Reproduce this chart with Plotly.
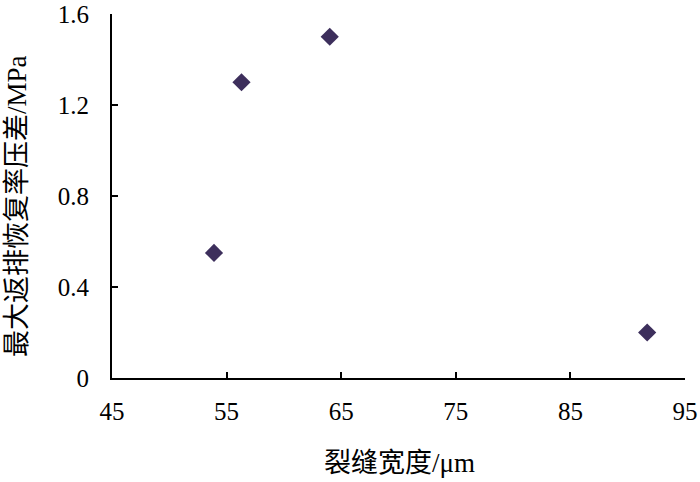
import plotly.graph_objects as go

# crack width (um) vs max flowback recovery pressure difference (MPa)
crack_width = [53.9, 56.3, 64.0, 91.7]
pressure_diff = [0.55, 1.30, 1.50, 0.20]

x_ticks = [45, 55, 65, 75, 85, 95]
y_ticks = [0, 0.4, 0.8, 1.2, 1.6]
y_tick_text = ["0", "0.4", "0.8", "1.2", "1.6"]

x_title = "裂缝宽度/μm"
y_title = "最大返排恢复率压差/MPa"

font_family = "Liberation Serif"
cjk_family = "Liberation Serif, Noto Sans CJK SC"

fig = go.Figure()
fig.add_trace(go.Scatter(
    x=crack_width,
    y=pressure_diff,
    mode="markers",
    marker=dict(symbol="diamond", size=14, color="#3d2f5c"),
    showlegend=False,
))

axis_common = dict(
    showline=True,
    linecolor="black",
    linewidth=2,
    ticks="inside",
    ticklen=6,
    tickwidth=2,
    tickcolor="black",
    showgrid=False,
    zeroline=False,
    mirror=False,
    automargin=False,
    ticklabeloverflow="allow",
    tickfont=dict(family=font_family, size=25, color="black"),
)

fig.update_xaxes(
    range=[45, 95],
    tickvals=x_ticks,
    ticklabelstandoff=10,
    **axis_common,
)
fig.update_yaxes(
    range=[0, 1.6],
    tickvals=y_ticks,
    ticktext=y_tick_text,
    ticklabelstandoff=16,
    **axis_common,
)

fig.add_annotation(
    text=x_title, xref="paper", yref="paper", x=0.501, y=-0.2325,
    xanchor="center", yanchor="middle", showarrow=False,
    font=dict(family=cjk_family, size=27, color="black"),
)
fig.add_annotation(
    text=y_title, xref="paper", yref="paper", x=-0.1646, y=0.4716,
    xanchor="center", yanchor="middle", showarrow=False, textangle=-90,
    font=dict(family=cjk_family, size=27, color="black"),
)

fig.update_layout(
    width=700,
    height=482,
    margin=dict(l=111.5, r=14.5, t=14, b=103.7),
    paper_bgcolor="white",
    plot_bgcolor="white",
    font=dict(family=font_family, color="black"),
)

# drop the default 8px page margin so the figure sits at the window's corner
fig.write_html(
    "out.html",
    config={"displayModeBar": False},
    post_script="document.body.style.margin='0';",
)
